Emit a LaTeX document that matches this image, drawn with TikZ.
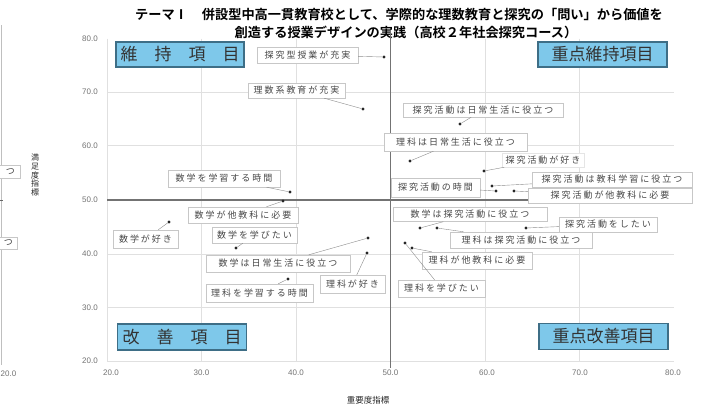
\documentclass[tikz,border=0pt]{standalone}
\usepackage{fontspec}
\setmainfont{Liberation Sans}
\newfontfamily\jp{Noto Sans CJK JP}
\newfontfamily\jpbold{Noto Sans CJK JP Bold}
\newfontfamily\jplab{Noto Sans CJK JP}[LetterSpace=22]
\definecolor{quadfill}{HTML}{7EC8EA}
\definecolor{quaddraw}{HTML}{3E6E86}
\tikzset{
  grid/.style={draw=black!12, line width=0.5pt},
  axisline/.style={draw=black!55, line width=1.8pt},
  lab/.style={draw=black!22, fill=white, inner sep=0pt, text=black!72,
    font=\jplab\fontsize{9}{9}\selectfont},
  quad/.style={draw=quaddraw, line width=1.1pt, fill=quadfill, inner sep=0pt,
    text=black!80, font=\jp\fontsize{17}{17}\selectfont},
  dot/.style={circle, fill=black!85, inner sep=0pt, minimum size=3.2pt},
  leader/.style={draw=black!45, line width=0.4pt},
  tick/.style={text=black!55, font=\fontsize{8}{8}\selectfont, inner sep=0pt},
  ttl/.style={font=\jpbold\fontsize{13.2}{13.2}\selectfont, inner sep=0pt},
  axt/.style={font=\jp\fontsize{8}{8.8}\selectfont, inner sep=0pt, text=black!85}
}
\begin{document}
\begin{tikzpicture}[x=1pt,y=-1pt]
\useasboundingbox (0,0) rectangle (715,405);
\fill[white] (0,0) rectangle (715,405);

% left fragment of another chart
\draw[grid, draw=black!25] (1.5,25) -- (1.5,365);
\draw[black!60, line width=1pt] (-1,200) -- (3,200);
\node[lab, minimum width=26pt, minimum height=13pt] (fa) at (7,171.5) {};
\node[lab, draw=none, fill=none, anchor=east] (fat) at (15,171.5) {つ};
\node[lab, minimum width=24pt, minimum height=12pt] (fb) at (5,243) {};
\node[lab, draw=none, fill=none, anchor=east] (fbt) at (13,243) {つ};
\node[tick, anchor=west] (fc) at (0.5,374) {20.0};

% title
\node[ttl] (t1) at (399,15) {テーマⅠ\hspace{14pt}併設型中高一貫教育校として、学際的な理数教育と探究の「問い」から価値を};
\node[ttl] (t2) at (406,32) {創造する授業デザインの実践（高校２年社会探究コース）};

% gridlines
\foreach \gx in {201.5,296,485,579.5} \draw[grid] (\gx,38.5) -- (\gx,361);
\foreach \gy in {91.9,145.3,253.8,307.6} \draw[grid] (107,\gy) -- (674,\gy);
\draw[grid] (107,38.5) -- (107,361) -- (674,361);

% main axes
\draw[axisline] (390.5,30) -- (390.5,368);
\draw[axisline] (107,200) -- (676,200);

% tick labels
\foreach \v/\py in {80.0/38.5,70.0/92,60.0/145.5,50.0/199.5,40.0/253.5,30.0/307.5,20.0/361}
  \node[tick, anchor=east] at (98,\py) {\v};
\foreach \v/\px in {20.0/111,30.0/201.5,40.0/296,50.0/390.5,60.0/487,70.0/580,80.0/673}
  \node[tick] at (\px,373) {\v};

% axis titles
\node[axt, align=center] (ay) at (35,175) {満\\足\\度\\指\\標};
\node[axt, font=\jp\fontsize{8.5}{8.5}\selectfont] (ax) at (368,400) {重要度指標};

% quadrant boxes
\node[quad, minimum width=128pt, minimum height=25pt] (q1) at (180,54.5) {維　持　項　目};
\node[quad, minimum width=129pt, minimum height=25pt] (q2) at (602.5,54.5) {重点維持項目};
\node[quad, minimum width=129pt, minimum height=26pt] (q3) at (182,337) {改　善　項　目};
\node[quad, minimum width=129pt, minimum height=26pt] (q4) at (603.5,336.5) {重点改善項目};

% data points
\node[dot] (d1) at (384,57) {};
\node[dot] (d2) at (363,109) {};
\node[dot] (d3) at (460,124) {};
\node[dot] (d4) at (410,161) {};
\node[dot] (d5) at (484,171) {};
\node[dot] (d6) at (492,186) {};
\node[dot] (d7) at (496,191) {};
\node[dot] (d8) at (514,191) {};
\node[dot] (d9) at (290,192) {};
\node[dot] (d10) at (283,201) {};
\node[dot] (d11) at (169,222) {};
\node[dot] (d12) at (236,248) {};
\node[dot] (d13) at (368,238) {};
\node[dot] (d14) at (367,253) {};
\node[dot] (d15) at (288,279) {};
\node[dot] (d16) at (420,228) {};
\node[dot] (d17) at (526,228) {};
\node[dot] (d18) at (437,228) {};
\node[dot] (d19) at (412,248) {};
\node[dot] (d20) at (405,243) {};

% labels
\node[lab, minimum width=101pt, minimum height=16pt] (l1) at (307.5,55) {探究型授業が充実};
\node[lab, minimum width=97pt, minimum height=15pt] (l2) at (296.5,90.5) {理数系教育が充実};
\node[lab, minimum width=160pt, minimum height=14pt] (l3) at (483,110) {探究活動は日常生活に役立つ};
\node[lab, minimum width=143pt, minimum height=18pt] (l4) at (455.5,142) {理科は日常生活に役立つ};
\node[lab, minimum width=82pt, minimum height=14pt, draw=black!10] (l5) at (543,160) {探究活動が好き};
\node[lab, minimum width=160pt, minimum height=15pt] (l6) at (612,179.5) {探究活動は教科学習に役立つ};
\node[lab, minimum width=89pt, minimum height=19pt] (l7) at (435.5,187.5) {探究活動の時間};
\node[lab, minimum width=164pt, minimum height=15pt] (l8) at (610,195.5) {探究活動が他教科に必要};
\node[lab, minimum width=112pt, minimum height=17pt] (l9) at (224,178.5) {数学を学習する時間};
\node[lab, minimum width=110pt, minimum height=16pt] (l10) at (243,215) {数学が他教科に必要};
\node[lab, minimum width=65pt, minimum height=18pt] (l11) at (145.5,239) {数学が好き};
\node[lab, minimum width=85pt, minimum height=16pt] (l12) at (254.5,235) {数学を学びたい};
\node[lab, minimum width=144pt, minimum height=17pt] (l13) at (278,263.5) {数学は日常生活に役立つ};
\node[lab, minimum width=65pt, minimum height=18pt] (l14) at (352.5,284) {理科が好き};
\node[lab, minimum width=107pt, minimum height=18pt] (l15) at (259.5,293) {理科を学習する時間};
\node[lab, minimum width=154pt, minimum height=14pt] (l16) at (470,214.5) {数学は探究活動に役立つ};
\node[lab, minimum width=98pt, minimum height=15pt] (l17) at (608,224.5) {探究活動をしたい};
\node[lab, minimum width=142pt, minimum height=16pt] (l18) at (521,240) {理科は探究活動に役立つ};
\node[lab, minimum width=110pt, minimum height=17pt] (l19) at (477,260.5) {理科が他教科に必要};
\node[lab, minimum width=87pt, minimum height=17pt] (l20) at (441.5,288.5) {理科を学びたい};

% leaders
\foreach \i in {1,...,20} \draw[leader] (l\i) -- (d\i);
\end{tikzpicture}
\end{document}
